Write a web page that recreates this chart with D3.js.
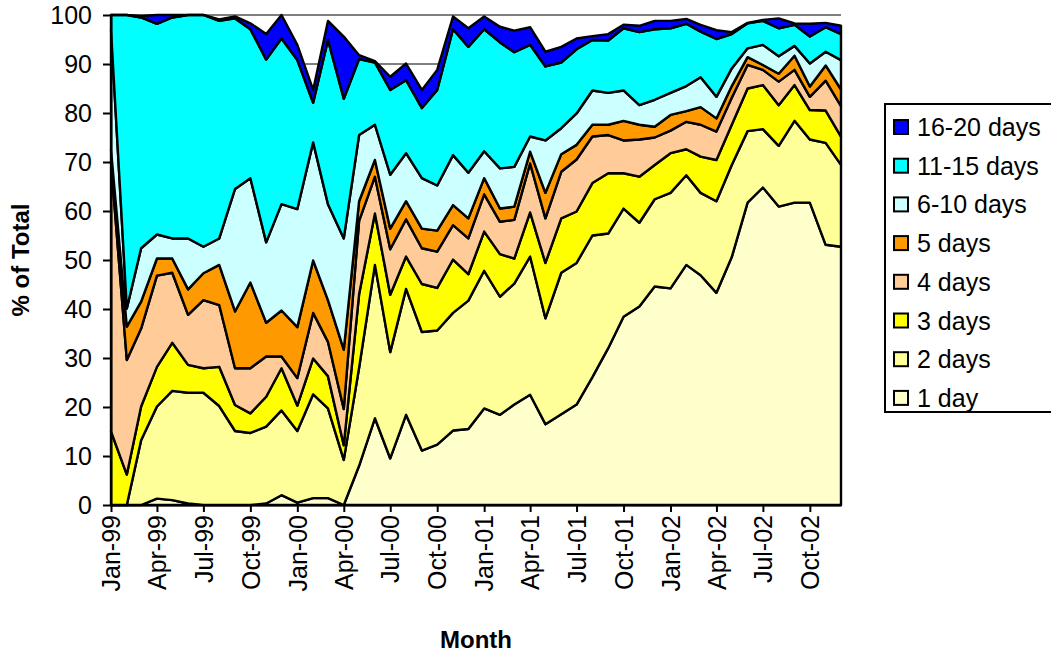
<!DOCTYPE html>
<html>
<head>
<meta charset="utf-8">
<script src="https://cdn.jsdelivr.net/npm/d3@7"></script>
<style>
  body { margin: 0; background: #fff; }
  text { font-family: Arial, 'Liberation Sans', sans-serif; fill: #000; }
</style>
</head>
<body>
<div id="chart"></div>
<script>
// months shown: Jan-99 .. Dec-02
const firstMonth = new Date(1999, 0, 1)
const lastMonth = new Date(2002, 11, 1)

const seriesNames = ['1 day', '2 days', '3 days', '4 days', '5 days', '6-10 days', '11-15 days', '16-20 days']
const seriesColors = ['#ffffcc', '#ffff99', '#ffff00', '#ffcc99', '#ff9900', '#ccffff', '#00ffff', '#0000ff']

// % of total per month
const oneDay = [0, 0, 0, 1.3, 1.0, 0.3, 0, 0, 0, 0, 0.3, 2.0, 0.5, 1.4, 1.4, 0,
  8.0, 17.7, 9.5, 18.4, 11.1, 12.3, 15.2, 15.5, 19.7, 18.4, 20.5, 22.5, 16.5, 18.5, 20.5, 26.1,
  32.0, 38.4, 40.5, 44.6, 44.2, 49.0, 46.9, 43.3, 50.6, 61.7, 64.8, 60.9, 61.7, 61.7, 53.1, 52.7]
const twoDays = [0, 0, 13.2, 18.8, 22.3, 22.6, 22.9, 20.2, 15.1, 14.7, 15.7, 17.3, 14.6, 21.2, 18.3, 9.2,
  20.0, 31.3, 21.7, 25.7, 24.2, 23.3, 24.0, 26.2, 28.1, 24.1, 24.7, 28.2, 21.6, 28.9, 28.9, 28.9,
  23.4, 22.1, 17.1, 17.8, 19.5, 18.3, 16.8, 18.7, 18.8, 14.6, 11.9, 12.4, 16.7, 12.9, 20.8, 16.7]
const threeDays = [15.0, 6.2, 6.9, 8.1, 9.8, 5.7, 5.0, 8.0, 5.3, 4.0, 6.1, 8.6, 5.2, 7.3, 6.6, 3.0,
  15.0, 10.5, 11.7, 6.6, 9.8, 8.7, 10.9, 5.4, 8.0, 8.7, 5.1, 9.0, 11.3, 11.1, 10.5, 10.7,
  12.3, 7.2, 9.4, 7.0, 8.1, 5.3, 7.4, 8.4, 8.2, 8.7, 9.0, 8.3, 7.3, 6.0, 6.6, 5.8]
const fourDays = [55.0, 23.4, 15.9, 18.6, 14.3, 10.2, 13.9, 12.6, 7.5, 9.2, 8.2, 2.4, 5.6, 9.3, 7.0, 7.4,
  15.0, 7.5, 9.3, 7.6, 7.3, 7.4, 7.0, 7.3, 7.6, 6.6, 7.9, 10.0, 9.1, 9.5, 10.6, 9.5,
  7.8, 6.7, 7.6, 5.6, 4.6, 5.6, 6.5, 5.8, 5.5, 4.8, 3.1, 4.8, 3.1, 2.7, 6.1, 6.2]
const fiveDays = [2.5, 6.8, 5.5, 3.5, 2.9, 5.2, 5.5, 8.2, 11.6, 17.5, 6.9, 9.4, 10.4, 10.7, 8.5, 12.1,
  4.0, 3.4, 4.2, 3.7, 4.0, 4.3, 4.1, 4.1, 3.3, 2.7, 2.7, 2.4, 5.2, 3.6, 3.0, 2.4,
  2.1, 4.0, 3.0, 2.2, 3.2, 2.2, 3.6, 2.7, 2.4, 1.6, 1.0, 1.6, 2.9, 2.1, 3.1, 3.4]
const sixToTenDays = [24.5, 3.7, 10.9, 4.9, 4.1, 10.4, 5.4, 5.4, 25.0, 21.3, 16.4, 21.7, 24.1, 24.1, 19.6, 22.7,
  13.5, 7.2, 11.0, 9.8, 10.3, 9.2, 10.2, 9.3, 5.5, 8.2, 8.1, 3.1, 10.7, 5.3, 6.4, 7.0,
  6.5, 6.2, 4.0, 5.5, 4.5, 5.1, 6.1, 4.4, 3.6, 1.8, 4.1, 3.6, 2.0, 4.7, 2.8, 6.0]
const elevenToFifteenDays = [3.0, 59.9, 47.1, 43.0, 45.1, 45.6, 47.3, 44.4, 34.8, 30.4, 37.3, 33.8, 30.4, 8.1, 33.5, 28.5,
  15.5, 12.7, 17.3, 14.9, 14.3, 19.5, 25.7, 25.7, 24.9, 25.7, 23.4, 18.7, 15.1, 13.4, 13.1, 10.3,
  10.7, 12.7, 14.9, 14.4, 13.2, 12.7, 9.3, 11.8, 7.0, 5.1, 4.9, 5.7, 4.3, 5.5, 5.0, 5.3]
const sixteenToTwentyDays = [0, 0, 0.3, 1.8, 0.5, 0, 0, 0.3, 0.4, 1.2, 5.2, 4.8, 3.1, 2.6, 3.9, 12.7,
  0.8, 0.3, 2.7, 3.4, 3.7, 4.1, 2.6, 3.8, 2.6, 3.2, 4.4, 3.6, 3.0, 3.2, 2.2, 0.8,
  1.3, 0.7, 1.3, 1.7, 1.5, 1.0, 1.4, 1.8, 0.4, 0.1, 0.2, 2.0, 0.3, 2.6, 0.9, 1.7]

const seriesValues = [oneDay, twoDays, threeDays, fourDays, fiveDays, sixToTenDays, elevenToFifteenDays, sixteenToTwentyDays]
const yTicks = [0, 10, 20, 30, 40, 50, 60, 70, 80, 90, 100]

const outerWidth = 1051
const outerHeight = 654
const margin = { top: 15, right: 210, bottom: 149, left: 111 }
const width = outerWidth - margin.left - margin.right
const height = outerHeight - margin.top - margin.bottom

const months = d3.timeMonth.range(firstMonth, d3.timeMonth.offset(lastMonth, 1))
const rows = months.map((m, i) => {
  let row = { month: m }
  seriesNames.forEach((name, k) => { row[name] = seriesValues[k][i] })
  return row
})
const stacked = d3.stack().keys(seriesNames)(rows)

let raw = d3.select('#chart')
  .append('svg')
  .attr('width', outerWidth)
  .attr('height', outerHeight)
let svg = raw.append('g')
  .attr('transform', `translate(${margin.left},${margin.top})`)

let xs = d3.scaleTime()
  .domain([firstMonth, lastMonth])
  .range([0, width])
let ys = d3.scaleLinear()
  .domain([0, 100])
  .range([height, 0])

// gridlines behind the areas
svg.append('g')
  .selectAll('line')
  .data(yTicks.slice(1))
  .enter()
  .append('line')
  .attr('x1', 0)
  .attr('x2', width)
  .attr('y1', (d) => ys(d))
  .attr('y2', (d) => ys(d))
  .attr('stroke', '#000')
  .attr('stroke-width', 1)

let area = d3.area()
  .x((d) => xs(d.data.month))
  .y0((d) => ys(d[0]))
  .y1((d) => ys(d[1]))

svg.selectAll('.band')
  .data(stacked)
  .enter()
  .append('path')
  .attr('class', 'band')
  .attr('d', area)
  .attr('fill', (d, i) => seriesColors[i])
  .attr('stroke', '#000')
  .attr('stroke-width', 2.4)
  .attr('stroke-linejoin', 'round')

// axes
let yAxis = svg.append('g')
  .call(d3.axisLeft(ys).tickValues(yTicks).tickSize(8).tickSizeOuter(0).tickPadding(11))
yAxis.select('.domain').attr('stroke-width', 2)
yAxis.selectAll('.tick line').attr('stroke-width', 2)
yAxis.selectAll('text')
  .style('font-size', '25px')

let xAxis = svg.append('g')
  .attr('transform', `translate(0,${height})`)
  .call(d3.axisBottom(xs)
    .tickValues(d3.timeMonth.every(3).range(firstMonth, d3.timeMonth.offset(lastMonth, 1)))
    .tickFormat(d3.timeFormat('%b-%y'))
    .tickSize(7)
    .tickSizeOuter(0))
xAxis.select('.domain').attr('stroke-width', 2)
xAxis.selectAll('.tick line').attr('stroke-width', 2)
xAxis.selectAll('text')
  .attr('x', -10)
  .attr('y', 0)
  .attr('dy', '0.35em')
  .attr('transform', 'rotate(-90)')
  .style('text-anchor', 'end')
  .style('font-size', '25px')

// axis titles
raw.append('text')
  .attr('transform', 'translate(29,260) rotate(-90)')
  .style('text-anchor', 'middle')
  .style('font-size', '24px')
  .style('font-weight', 'bold')
  .text('% of Total')
raw.append('text')
  .attr('x', 476)
  .attr('y', 648)
  .style('text-anchor', 'middle')
  .style('font-size', '24px')
  .style('font-weight', 'bold')
  .text('Month')

// legend, top entry is the top band
let legend = raw.append('g')
  .attr('transform', 'translate(885,104)')
legend.append('rect')
  .attr('x', 0)
  .attr('y', 0)
  .attr('width', 200)
  .attr('height', 308)
  .attr('fill', '#fff')
  .attr('stroke', '#000')
  .attr('stroke-width', 2)
let items = legend.selectAll('.item')
  .data(seriesNames.slice().reverse())
  .enter()
  .append('g')
  .attr('class', 'item')
  .attr('transform', (d, i) => `translate(0,${23 + i * 38.7})`)
items.append('rect')
  .attr('x', 9)
  .attr('y', -7)
  .attr('width', 14)
  .attr('height', 14)
  .attr('fill', (d) => seriesColors[seriesNames.indexOf(d)])
  .attr('stroke', '#000')
  .attr('stroke-width', 2)
items.append('text')
  .attr('x', 32)
  .attr('y', 0)
  .attr('dy', '0.36em')
  .style('font-size', '25px')
  .text((d) => d)
</script>
</body>
</html>
